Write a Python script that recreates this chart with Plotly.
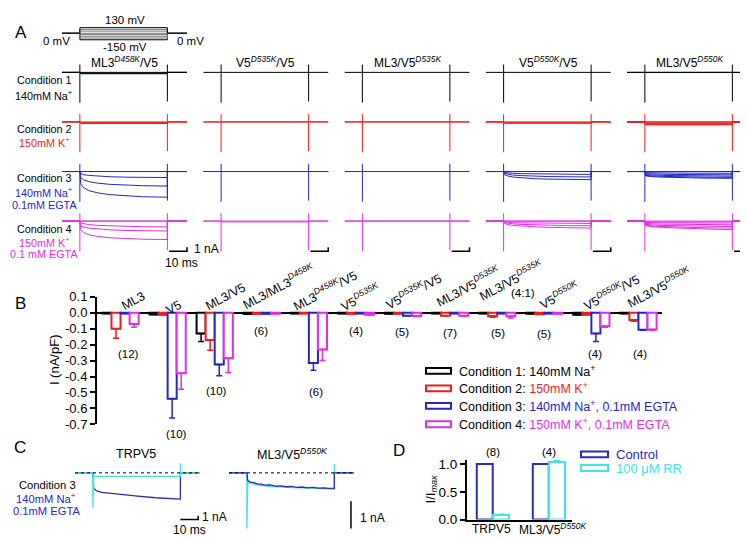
import plotly.graph_objects as go

W, H = 748, 538
FONT = "Arial, 'Liberation Sans', sans-serif"
BLACK, RED, BLUE, MAGENTA, CYAN = "#000000", "#ee1c1c", "#2626c8", "#e22ee2", "#44e2e2"
ROW_COLORS = [BLACK, RED, BLUE, MAGENTA]

# ---------------- Panel A data ----------------
VOLT_STEPS = [-150, -110, -70, -30, 10, 50, 90, 130]          # mV
SWEEP_T = [0.5, 2, 5, 10, 17, 25, 35, 49]                      # ms, sample times within the pulse
T_START, PULSE_END, T_STOP = -10, 49, 60                       # ms
A_TRANSIENT_ON = [2.0, -7.8]                                   # nA (top, bottom) of capacitive spike at onset
A_TRANSIENT_OFF = [2.0, -7.5]                                  # nA at pulse end
A_COLUMN_TITLES = ["ML3<sup><i>D458K</i></sup>/V5", "V5<sup><i>D535K</i></sup>/V5",
                   "ML3/V5<sup><i>D535K</i></sup>", "V5<sup><i>D550K</i></sup>/V5",
                   "ML3/V5<sup><i>D550K</i></sup>"]
A_ROW_TEXT = [["Condition 1", "140mM Na<sup>+</sup>"],
              ["Condition 2", "150mM K<sup>+</sup>"],
              ["Condition 3", "140mM Na<sup>+</sup>", "0.1mM EGTA"],
              ["Condition 4", "150mM K<sup>+</sup>", "0.1 mM EGTA"]]

# sweeps per condition (nA); a number means a flat sweep at that level
A_ML3D458K_V5 = [
    [0, -0.2, -0.35],
    [0, -0.2, -0.4],
    [0, -0.15,
     [-0.5, -0.8, -1.0, -1.2, -1.35, -1.45, -1.5, -1.55],
     [-1.5, -2.1, -2.6, -3.0, -3.3, -3.5, -3.65, -3.75],
     [-3.2, -4.1, -4.9, -5.5, -5.95, -6.25, -6.5, -6.6]],
    [0, -0.15,
     [-0.5, -0.7, -0.9, -1.1, -1.25, -1.35, -1.45, -1.5],
     [-1.2, -1.5, -1.8, -2.05, -2.25, -2.4, -2.5, -2.55],
     [-2.2, -2.9, -3.5, -3.95, -4.3, -4.5, -4.65, -4.75]],
]
A_V5D535K_V5 = [[0], [0, -0.15], [0, -0.15], [0, -0.2]]
A_ML3_V5D535K = [[0], [0, -0.1], [0], [0, -0.1]]
A_V5D550K_V5 = [
    [0],
    [0, -0.2, -0.35],
    [0, -0.15,
     [-0.25, -0.35, -0.45, -0.55, -0.6, -0.65, -0.7, -0.75],
     [-0.5, -0.7, -0.9, -1.05, -1.2, -1.3, -1.35, -1.4],
     [-0.8, -1.1, -1.4, -1.65, -1.85, -1.95, -2.05, -2.1]],
    [0, -0.15,
     [-0.2, -0.3, -0.4, -0.45, -0.5, -0.55, -0.6, -0.6],
     [-0.4, -0.55, -0.7, -0.85, -0.95, -1.05, -1.15, -1.2],
     [-0.6, -0.85, -1.1, -1.3, -1.45, -1.6, -1.7, -1.8]],
]
A_ML3_V5D550K = [
    [0, -0.15],
    [0, -0.15, -0.3, -0.45, -0.6, -0.75],
    [0, -0.15,
     [-0.3, -0.32, -0.35, -0.37, -0.4, -0.42, -0.44, -0.45],
     [-0.55, -0.6, -0.65, -0.7, -0.75, -0.8, -0.83, -0.85],
     [-0.8, -0.85, -0.92, -1.0, -1.05, -1.1, -1.15, -1.2],
     [-1.0, -1.08, -1.16, -1.25, -1.33, -1.4, -1.47, -1.5],
     [-1.15, -1.25, -1.35, -1.45, -1.55, -1.62, -1.7, -1.75]],
    [0, -0.2,
     [-0.35, -0.38, -0.41, -0.44, -0.46, -0.48, -0.5, -0.5],
     [-0.6, -0.66, -0.72, -0.78, -0.84, -0.88, -0.92, -0.95],
     [-0.85, -0.93, -1.02, -1.12, -1.2, -1.28, -1.35, -1.4],
     [-1.05, -1.15, -1.28, -1.4, -1.52, -1.62, -1.72, -1.8],
     [-1.2, -1.33, -1.48, -1.63, -1.78, -1.92, -2.05, -2.2]],
]
A_DATA = [A_ML3D458K_V5, A_V5D535K_V5, A_ML3_V5D535K, A_V5D550K_V5, A_ML3_V5D550K]
SCALE_T_MS, SCALE_I_NA = 10, 1

# ---------------- Panel B data ----------------
B_GROUPS = ["ML3", "V5", "ML3/V5", "ML3/ML3<sup><i>D458K</i></sup>", "ML3<sup><i>D458K</i></sup>/V5",
            "V5<sup><i>D535K</i></sup>", "V5<sup><i>D535K</i></sup>/V5", "ML3/V5<sup><i>D535K</i></sup>",
            "ML3/V5<sup><i>D535K</i></sup> (4:1)", "V5<sup><i>D550K</i></sup>",
            "V5<sup><i>D550K</i></sup>/V5", "ML3/V5<sup><i>D550K</i></sup>"]
B_N = ["(12)", "(10)", "(10)", "(6)", "(6)", "(4)", "(5)", "(7)", "(5)", "(5)", "(4)", "(4)"]
B_COND1 = [-0.005, -0.01, -0.13, -0.008, -0.004, -0.004, -0.006, -0.005, -0.005, -0.006, -0.012, -0.004]
B_COND1_SEM = [0, 0, 0.05, 0, 0, 0, 0, 0, 0, 0, 0, 0]
B_COND2 = [-0.10, -0.012, -0.17, -0.006, -0.005, -0.006, -0.006, -0.018, -0.022, -0.009, -0.012, -0.045]
B_COND2_SEM = [0.06, 0, 0.065, 0, 0, 0, 0, 0, 0.005, 0, 0, 0.008]
B_COND3 = [-0.005, -0.54, -0.325, -0.006, -0.315, -0.004, -0.018, -0.005, -0.005, -0.005, -0.13, -0.107]
B_COND3_SEM = [0, 0.12, 0.07, 0, 0.045, 0, 0, 0, 0, 0, 0.05, 0.003]
B_COND4 = [-0.07, -0.38, -0.285, -0.006, -0.23, -0.012, -0.02, -0.018, -0.022, -0.006, -0.085, -0.105]
B_COND4_SEM = [0.02, 0.10, 0.09, 0, 0.07, 0, 0.003, 0.003, 0.01, 0, 0.006, 0.005]
B_YTICKS = [0.1, 0.0, -0.1, -0.2, -0.3, -0.4, -0.5, -0.6, -0.7]
B_LEGEND = ["Condition 1: 140mM Na<sup>+</sup>",
            "Condition 2: <span style='color:%s'>150mM K<sup>+</sup></span>" % RED,
            "Condition 3: <span style='color:%s'>140mM Na<sup>+</sup>, 0.1mM EGTA</span>" % BLUE,
            "Condition 4: <span style='color:%s'>150mM K<sup>+</sup>, 0.1mM EGTA</span>" % MAGENTA]

# ---------------- Panel C data ----------------
C_TRPV5_T = [0.5, 2, 5, 10, 17, 25, 35, 49]
C_TRPV5_CTRL = [-4.0, -4.6, -5.0, -5.3, -5.65, -6.0, -6.4, -6.75]   # nA
C_TRPV5_RR = [-0.9, -0.9, -0.9, -0.9, -0.9, -0.9, -0.9, -0.9]
C_TRPV5_RR_SPIKES = [-9.0, 2.5]
C_ML3_T = [0.5, 2, 4, 6, 8, 10, 13, 16, 19, 22, 25, 28, 31, 34, 37, 40, 43, 46, 49]
C_ML3_CTRL = [-0.28, -0.34, -0.36, -0.41, -0.41, -0.45, -0.44, -0.49, -0.48, -0.51,
              -0.50, -0.53, -0.52, -0.55, -0.53, -0.56, -0.55, -0.57, -0.56]
C_ML3_RR = [-0.33, -0.38, -0.42, -0.44, -0.47, -0.47, -0.50, -0.50, -0.52, -0.52,
            -0.54, -0.54, -0.55, -0.55, -0.56, -0.57, -0.58, -0.58, -0.60]
C_ML3_RR_SPIKES = [-2.04, 0.32]

# ---------------- Panel D data ----------------
D_GROUPS = ["TRPV5", "ML3/V5<sup><i>D550K</i></sup>"]
D_CONTROL = [1.0, 1.0]
D_RR = [0.08, 1.04]
D_RR_SEM = [0.015, 0.02]
D_N = ["(8)", "(4)"]

# ================= helpers =================
def fx(px):
    return px / W


def fy(py):
    return 1 - py / H


layout = dict(width=W, height=H, margin=dict(l=0, r=0, t=0, b=0), showlegend=False,
              paper_bgcolor="white", plot_bgcolor="white",
              font=dict(family=FONT, size=12, color=BLACK),
              barmode="group", bargap=0.23, bargroupgap=0,
              annotations=[], shapes=[])
traces = []


def axes(k, x0, x1, y_top, y_bot, xr, yr):
    s = "" if k == 1 else str(k)
    layout["xaxis" + s] = dict(domain=[fx(x0), fx(x1)], range=xr, anchor="y" + s, visible=False,
                               fixedrange=True)
    layout["yaxis" + s] = dict(domain=[fy(y_bot), fy(y_top)], range=yr, anchor="x" + s, visible=False,
                               fixedrange=True)
    return ("x" + s, "y" + s)


def text(s, x, y, size=12, color=BLACK, xanchor="center", angle=0):
    layout["annotations"].append(dict(text=s, x=fx(x), y=fy(y), xref="paper", yref="paper",
                                      showarrow=False, xanchor=xanchor, yanchor="middle",
                                      textangle=angle, font=dict(size=size, color=color, family=FONT)))


def sweep_xy(sweeps, times):
    xs, ys = [], []
    for s in sweeps:
        vals = [s] * len(times) if isinstance(s, (int, float)) else s
        xs += [T_START, 0] + list(times) + [PULSE_END, T_STOP, None]
        ys += [0, 0] + list(vals) + [0, 0, None]
    return xs, ys


# ================= Panel A =================
PX_PER_MS = 125 / 70.0
PX_PER_NA = 4.0
A_XR = [T_START, T_STOP + 1.5]
A_YR = [-9, 3]
col_x0 = [54 + c * 141.25 for c in range(5)]
row_base = [59, 110, 161, 212]
k = 1
for r in range(4):
    for c in range(5):
        x0 = col_x0[c]
        b = row_base[r]
        xa, ya = axes(k, x0, x0 + (A_XR[1] - A_XR[0]) * PX_PER_MS,
                      b - A_YR[1] * PX_PER_NA, b - A_YR[0] * PX_PER_NA, A_XR, A_YR)
        xs, ys = sweep_xy(A_DATA[c][r], SWEEP_T)
        traces.append(go.Scatter(x=xs, y=ys, mode="lines", xaxis=xa, yaxis=ya,
                                 line=dict(color=ROW_COLORS[r], width=1), hoverinfo="skip"))
        traces.append(go.Scatter(x=[0, 0, None, PULSE_END, PULSE_END],
                                 y=[A_TRANSIENT_ON[0], A_TRANSIENT_ON[1], None,
                                    A_TRANSIENT_OFF[0], A_TRANSIENT_OFF[1]],
                                 mode="lines", xaxis=xa, yaxis=ya,
                                 line=dict(color=ROW_COLORS[r], width=1), hoverinfo="skip"))
        if r == 3:
            yb = -7.75
            layout["shapes"].append(dict(type="path", xref=xa, yref=ya,
                                         path="M %g,%g L %g,%g L %g,%g" % (
                                             T_STOP - SCALE_T_MS, yb, T_STOP, yb, T_STOP, yb + SCALE_I_NA),
                                         line=dict(color=BLACK, width=1.5)))
        k += 1

# protocol (k = 21)
xa, ya = axes(21, 54, 54 + (A_XR[1] - A_XR[0]) * PX_PER_MS, 10.8, 27.7, A_XR, [-200, 180])
for i, v in enumerate(VOLT_STEPS):
    edge = i in (0, len(VOLT_STEPS) - 1)
    traces.append(go.Scatter(x=[T_START, 0, 0, PULSE_END, PULSE_END, T_STOP], y=[0, 0, v, v, 0, 0],
                             mode="lines", xaxis=xa, yaxis=ya, hoverinfo="skip",
                             line=dict(color=BLACK if edge else "#777777", width=1)))
text("%d mV" % VOLT_STEPS[-1], 117, 5, 11.5)
text("-%d mV" % abs(VOLT_STEPS[0]), 117, 33, 11.5)
text("0 mV", 48, 27, 11.5)
text("0 mV", 182, 27, 11.5)
text("A", 13, 18, 17)

for c, t in enumerate(A_COLUMN_TITLES):
    text(t, col_x0[c] + 62.5, 48, 12)
row_text_y = [[67, 82], [117, 131], [168, 182, 195], [220, 233, 246]]
for r in range(4):
    for j, s in enumerate(A_ROW_TEXT[r]):
        text(s, 36, row_text_y[r][j], 10.8, BLACK if j == 0 else ROW_COLORS[r])
text("1 nA", 184, 241, 12, xanchor="left")
text("10 ms", 173, 255, 12)

# ================= Panel B =================
xb, yb_ = axes(22, 89, 654, 290, 421, [-0.5, 11.5], [-0.7, 0.1])
layout["xaxis22"].update(type="category", visible=True, showline=False, showticklabels=False,
                         ticks="", showgrid=False, zeroline=False)
layout["yaxis22"].update(visible=True, showline=True, linewidth=2, linecolor=BLACK, ticks="outside",
                         ticklen=5, tickwidth=2, tickcolor=BLACK, showgrid=False, zeroline=True,
                         zerolinecolor=BLACK, zerolinewidth=2, tickvals=B_YTICKS,
                         ticktext=[("%.1f" % v).replace("-0.0", "0.0") for v in B_YTICKS],
                         tickfont=dict(size=13, family=FONT, color=BLACK))
for vals, sem, col in [(B_COND1, B_COND1_SEM, BLACK), (B_COND2, B_COND2_SEM, RED),
                       (B_COND3, B_COND3_SEM, BLUE), (B_COND4, B_COND4_SEM, MAGENTA)]:
    traces.append(go.Bar(x=B_GROUPS, y=vals, xaxis=xb, yaxis=yb_,
                         marker=dict(color="white", line=dict(color=col, width=2)),
                         error_y=dict(type="data", symmetric=False, array=[0] * len(vals), arrayminus=sem,
                                      color=col, thickness=1.5, width=3),
                         hoverinfo="skip"))
text("B", 12, 297, 17)
text("I (nA/pF)", 46, 355, 13, angle=-90)
group_label_pos = [(125, 294), (165, 301), (217, 290), (271, 279), (317, 283), (352, 290),
                   (405, 284), (460, 279), (503, 273), (551, 288), (603, 285), (651, 280)]
for i, (x, y) in enumerate(group_label_pos):
    label = B_GROUPS[i].replace(" (4:1)", "")
    text(label, x, y, 12.5, angle=-28)
text("(4:1)", 515, 286, 11.5)
n_pos = [(120, 349), (168, 431), (208, 387), (253, 325), (308, 388), (348, 325),
         (394, 326), (442, 327), (490, 327), (536, 328), (587, 349), (632, 349)]
for i, (x, y) in enumerate(n_pos):
    text(B_N[i], x, y, 11.5)
leg_y = [366, 384, 402, 421]
for i, (s, col) in enumerate(zip(B_LEGEND, ROW_COLORS)):
    layout["shapes"].append(dict(type="rect", xref="paper", yref="paper", x0=fx(418), x1=fx(443),
                                 y0=fy(leg_y[i] + 3), y1=fy(leg_y[i] - 3),
                                 line=dict(color=col, width=2), fillcolor="white"))
    text(s, 449, leg_y[i], 12.5, xanchor="left")

# ================= Panel C =================
CXR = [T_START, T_STOP + 1.5]
C1_YR = [-13, 3]
xa, ya = axes(23, 67, 67 + (CXR[1] - CXR[0]) * PX_PER_MS, 471 - 3 * 4, 471 + 13 * 4, CXR, C1_YR)
xs, ys = sweep_xy([C_TRPV5_CTRL], C_TRPV5_T)
traces.append(go.Scatter(x=xs, y=ys, mode="lines", xaxis=xa, yaxis=ya, hoverinfo="skip",
                         line=dict(color="#2b2bb5", width=1.3)))
traces.append(go.Scatter(x=[T_START, 0, 0] + C_TRPV5_T + [PULSE_END, PULSE_END, T_STOP],
                         y=[0, 0, C_TRPV5_RR_SPIKES[0]] + C_TRPV5_RR + [C_TRPV5_RR_SPIKES[1], 0, 0],
                         mode="lines", xaxis=xa, yaxis=ya, hoverinfo="skip",
                         line=dict(color=CYAN, width=1.3)))
traces.append(go.Scatter(x=[T_START, T_STOP], y=[0, 0], mode="lines", xaxis=xa, yaxis=ya,
                         hoverinfo="skip", line=dict(color=BLACK, width=1, dash="dot")))
layout["shapes"].append(dict(type="path", xref=xa, yref=ya,
                             path="M %g,%g L %g,%g L %g,%g" % (PULSE_END, -12, PULSE_END + SCALE_T_MS, -12,
                                                              PULSE_END + SCALE_T_MS, -12 + SCALE_I_NA),
                             line=dict(color=BLACK, width=1.5)))
text("1 nA", 192, 516, 12, xanchor="left")
text("10 ms", 181, 530, 12)
text("TRPV5", 128, 452, 12.5)

C2_PX_PER_NA = 28.0
C2_YR = [-2.1, 0.5]
xa, ya = axes(24, 221, 221 + (CXR[1] - CXR[0]) * PX_PER_MS, 471 - C2_YR[1] * C2_PX_PER_NA,
              471 - C2_YR[0] * C2_PX_PER_NA, CXR, C2_YR)
traces.append(go.Scatter(x=[T_START, 0, 0] + C_ML3_T + [PULSE_END, PULSE_END, T_STOP],
                         y=[0, 0, C_ML3_RR_SPIKES[0]] + C_ML3_RR + [C_ML3_RR_SPIKES[1], 0, 0],
                         mode="lines", xaxis=xa, yaxis=ya, hoverinfo="skip",
                         line=dict(color=CYAN, width=1.3)))
xs, ys = sweep_xy([C_ML3_CTRL], C_ML3_T)
traces.append(go.Scatter(x=xs, y=ys, mode="lines", xaxis=xa, yaxis=ya, hoverinfo="skip",
                         line=dict(color="#2b2bb5", width=1.3)))
traces.append(go.Scatter(x=[T_START, T_STOP], y=[0, 0], mode="lines", xaxis=xa, yaxis=ya,
                         hoverinfo="skip", line=dict(color=BLACK, width=1, dash="dot")))
layout["shapes"].append(dict(type="line", xref=xa, yref=ya, x0=58.3, x1=58.3, y0=-2.04, y1=-2.04 + SCALE_I_NA,
                             line=dict(color=BLACK, width=1.5)))
text("1 nA", 350, 517, 12, xanchor="left")
text("ML3/V5<sup><i>D550K</i></sup>", 247, 452, 12.5, xanchor="left")
text("C", 12, 445, 17)
text("Condition 3", 39, 483, 11.2)
text("140mM Na<sup>+</sup>", 38, 497, 11.2, BLUE)
text("0.1mM EGTA", 38, 510, 11.2, BLUE)

# ================= Panel D =================
D_PX = 57.0
xd, yd = axes(25, 459, 564, 519 - 1.08 * D_PX, 519, [-0.464, 1.41], [0, 1.08])
layout["xaxis25"].update(type="category", visible=True, showline=True, linewidth=2, linecolor=BLACK,
                         ticks="", showgrid=False, zeroline=False, showticklabels=False)
layout["yaxis25"].update(visible=True, showline=True, linewidth=2, linecolor=BLACK, ticks="outside",
                         ticklen=5, tickwidth=2, tickcolor=BLACK, showgrid=False, zeroline=False,
                         tickvals=[0, 0.5, 1.0], ticktext=["0.0", "0.5", "1.0"],
                         tickfont=dict(size=13.5, family=FONT, color=BLACK))
traces.append(go.Bar(x=D_GROUPS, y=D_CONTROL, xaxis=xd, yaxis=yd, width=0.285, offset=-0.29,
                     marker=dict(color="white", line=dict(color="#2a2ac8", width=2)), hoverinfo="skip"))
traces.append(go.Bar(x=D_GROUPS, y=D_RR, xaxis=xd, yaxis=yd, width=0.285, offset=0.0,
                     marker=dict(color="white", line=dict(color=CYAN, width=2)),
                     error_y=dict(type="data", symmetric=False, array=D_RR_SEM, arrayminus=[0, 0],
                                  color=CYAN, thickness=1.5, width=3),
                     hoverinfo="skip"))
text(D_GROUPS[0], 483, 529, 12)
text(D_GROUPS[1], 544, 529, 12)
text("D", 391, 448, 17)
text("I/I<sub><i>max</i></sub>", 423, 488, 13, angle=-90)
text(D_N[0], 485, 450, 11.5)
text(D_N[1], 541, 450, 11.5)
for i, (s, col) in enumerate([("Control", "#2a2ac8"), ("100 \u03bcM RR", CYAN)]):
    yy = [452, 466][i]
    layout["shapes"].append(dict(type="rect", xref="paper", yref="paper", x0=fx(573), x1=fx(600),
                                 y0=fy(yy + 3), y1=fy(yy - 3), line=dict(color=col, width=2),
                                 fillcolor="white"))
    text(s, 606, yy, 13, col, xanchor="left")

fig = go.Figure(data=traces, layout=layout)
fig.write_html("out.html")
